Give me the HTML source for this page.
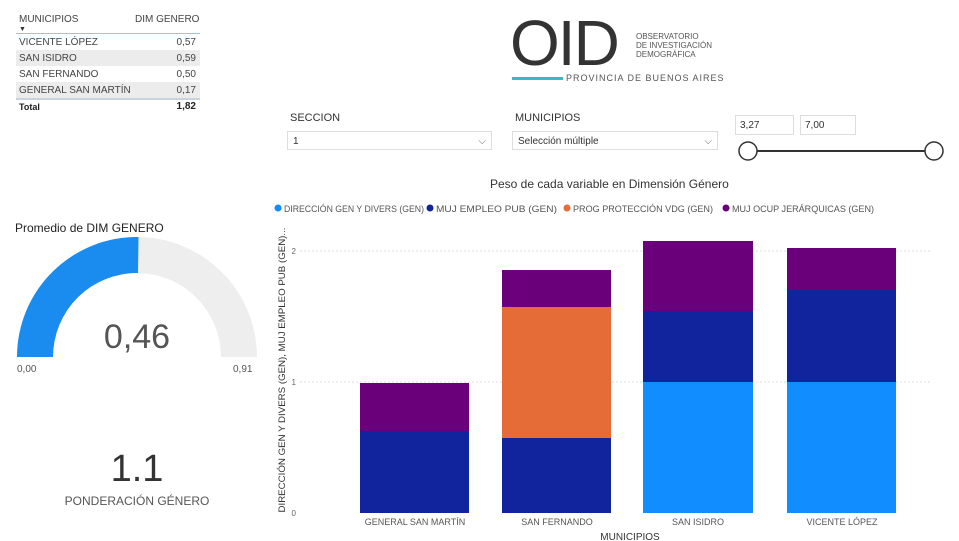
<!DOCTYPE html><html><head><meta charset="utf-8"><style>
body{margin:0;width:959px;height:541px;background:#fff;font-family:"Liberation Sans",sans-serif;position:relative;overflow:hidden;color:#333}
.a{position:absolute;white-space:nowrap}
</style></head><body>
<!-- table -->
<div class="a" style="left:19px;top:14px;font-size:10px;color:#444">MUNICIPIOS</div>
<div class="a" style="left:19px;top:26px;font-size:7px">▼</div>
<div class="a" style="left:135px;top:14px;font-size:10px;color:#444">DIM GENERO</div>
<div class="a" style="left:16px;top:33px;width:184px;height:1px;background:#9cc3e5"></div>
<div class="a" style="left:16px;top:50px;width:184px;height:16px;background:#ececec"></div>
<div class="a" style="left:16px;top:82px;width:184px;height:16px;background:#ececec"></div>
<div class="a" style="left:16px;top:98px;width:184px;height:2px;background:#c8d3e0"></div>
<div class="a" style="left:19px;top:35px;font-size:10px;line-height:16px;color:#444">VICENTE LÓPEZ<br>SAN ISIDRO<br>SAN FERNANDO<br>GENERAL SAN MARTÍN</div>
<div class="a" style="left:150px;top:35px;width:46px;text-align:right;font-size:10px;line-height:16px;color:#444">0,57<br>0,59<br>0,50<br>0,17</div>
<div class="a" style="left:19px;top:102px;font-size:9px;font-weight:bold;color:#222">Total</div>
<div class="a" style="left:150px;top:101px;width:46px;text-align:right;font-size:10px;font-weight:bold;color:#222">1,82</div>
<!-- logo -->
<div class="a" style="left:510px;top:8px;font-size:64px;color:#333;letter-spacing:-2px;line-height:70px">OID</div>
<div class="a" style="left:636px;top:32px;font-size:8px;line-height:9px;color:#555">OBSERVATORIO<br>DE INVESTIGACIÓN<br>DEMOGRÁFICA</div>
<div class="a" style="left:512px;top:77px;width:51px;height:3px;background:#3bb6c2"></div>
<div class="a" style="left:566px;top:73px;font-size:9px;letter-spacing:1px;color:#555">PROVINCIA DE BUENOS AIRES</div>
<!-- slicers -->
<div class="a" style="left:290px;top:112px;font-size:11px">SECCION</div>
<div class="a" style="left:287px;top:131px;width:205px;height:19px;border:1px solid #ddd;font-size:10px;line-height:19px;padding-left:5px;box-sizing:border-box">1<span style="position:absolute;right:5px;color:#666">⌵</span></div>
<div class="a" style="left:515px;top:112px;font-size:11px">MUNICIPIOS</div>
<div class="a" style="left:512px;top:131px;width:206px;height:19px;border:1px solid #ddd;font-size:10px;line-height:19px;padding-left:5px;box-sizing:border-box">Selección múltiple<span style="position:absolute;right:5px;color:#666">⌵</span></div>
<div class="a" style="left:735px;top:115px;width:59px;height:20px;border:1px solid #ddd;font-size:10px;line-height:20px;padding-left:4px;box-sizing:border-box">3,27</div>
<div class="a" style="left:800px;top:115px;width:56px;height:20px;border:1px solid #ddd;font-size:10px;line-height:20px;padding-left:4px;box-sizing:border-box">7,00</div>
<svg class="a" style="left:0;top:0" width="959" height="541">
<line x1="748" y1="151" x2="934" y2="151" stroke="#333" stroke-width="2"/>
<circle cx="748" cy="151" r="9" fill="#fff" stroke="#333" stroke-width="1.5"/>
<circle cx="934" cy="151" r="9" fill="#fff" stroke="#333" stroke-width="1.5"/>
<path d="M17 357 A120 120 0 0 1 257 357 L221 357 A84 84 0 0 0 53 357Z" fill="#eeeeee"/>
<path d="M17 357 A120 120 0 0 1 138.5 237 L138 273 A84 84 0 0 0 53 357Z" fill="#1a8cf0"/>
<line x1="300" y1="251" x2="930" y2="251" stroke="#ddd" stroke-dasharray="2,2"/>
<line x1="300" y1="382" x2="930" y2="382" stroke="#ddd" stroke-dasharray="2,2"/>
<g font-family="Liberation Sans" font-size="8" fill="#666" text-anchor="end"><text x="296" y="254">2</text><text x="296" y="385">1</text><text x="296" y="516">0</text></g>
<rect x="360" y="431" width="109" height="82" fill="#12239e"/><rect x="360" y="383" width="109" height="48" fill="#6b007b"/>
<rect x="502" y="438" width="109" height="75" fill="#12239e"/><rect x="502" y="307" width="109" height="131" fill="#e66c37"/><rect x="502" y="270" width="109" height="37" fill="#6b007b"/>
<rect x="643" y="382" width="110" height="131" fill="#118dff"/><rect x="643" y="311" width="110" height="71" fill="#12239e"/><rect x="643" y="241" width="110" height="70" fill="#6b007b"/>
<rect x="787" y="382" width="109" height="131" fill="#118dff"/><rect x="787" y="290" width="109" height="92" fill="#12239e"/><rect x="787" y="248" width="109" height="42" fill="#6b007b"/>
<g font-family="Liberation Sans" font-size="9" fill="#555" text-anchor="middle"><text x="415" y="525">GENERAL SAN MARTÍN</text><text x="557" y="525">SAN FERNANDO</text><text x="698" y="525">SAN ISIDRO</text><text x="842" y="525">VICENTE LÓPEZ</text></g>
<text x="630" y="540" font-family="Liberation Sans" font-size="10" fill="#333" text-anchor="middle">MUNICIPIOS</text>
<text transform="translate(285,370) rotate(-90)" font-family="Liberation Sans" font-size="9.5" fill="#333" text-anchor="middle" textLength="285" lengthAdjust="spacingAndGlyphs">DIRECCIÓN GEN Y DIVERS (GEN), MUJ EMPLEO PUB (GEN)...</text>
<circle cx="278" cy="208" r="3.5" fill="#118dff"/><circle cx="430" cy="208" r="3.5" fill="#12239e"/><circle cx="567" cy="208" r="3.5" fill="#e66c37"/><circle cx="726" cy="208" r="3.5" fill="#6b007b"/>
<g font-family="Liberation Sans" font-size="9" fill="#555"><text x="284" y="212" textLength="140" lengthAdjust="spacingAndGlyphs">DIRECCIÓN GEN Y DIVERS (GEN)</text><text x="436" y="212" textLength="121" lengthAdjust="spacingAndGlyphs">MUJ EMPLEO PUB (GEN)</text><text x="573" y="212" textLength="140" lengthAdjust="spacingAndGlyphs">PROG PROTECCIÓN VDG (GEN)</text><text x="732" y="212" textLength="142" lengthAdjust="spacingAndGlyphs">MUJ OCUP JERÁRQUICAS (GEN)</text></g>
</svg>
<div class="a" style="left:490px;top:177px;font-size:12px;color:#333">Peso de cada variable en Dimensión Género</div>
<div class="a" style="left:15px;top:221px;font-size:12px;color:#222">Promedio de DIM GENERO</div>
<div class="a" style="left:0;top:318px;width:274px;text-align:center;font-size:34px;color:#555">0,46</div>
<div class="a" style="left:17px;top:364px;font-size:10px;color:#555">0,00</div>
<div class="a" style="left:233px;top:364px;font-size:10px;color:#555">0,91</div>
<div class="a" style="left:0;top:448px;width:274px;text-align:center;font-size:38px;color:#333">1.1</div>
<div class="a" style="left:0;top:494px;width:274px;text-align:center;font-size:12px;color:#555">PONDERACIÓN GÉNERO</div>
</body></html>
